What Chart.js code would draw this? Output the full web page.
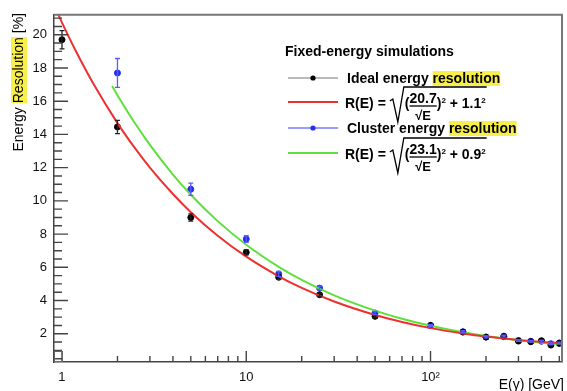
<!DOCTYPE html>
<html>
<head>
<meta charset="utf-8">
<script src="https://cdn.jsdelivr.net/npm/chart.js@4.4.1/dist/chart.umd.min.js"></script>
<style>
  html, body { margin: 0; padding: 0; background: #fff; }
</style>
</head>
<body>
<canvas id="resChart" width="567" height="391"></canvas>
<script>
// Ideal energy resolution (black points)
const idealE   = [1, 2, 5, 10, 15, 25, 50, 100, 150, 200, 250, 300, 350, 400, 450, 500];
const idealRes = [19.7, 14.45, 9.0, 6.9, 5.4, 4.35, 3.05, 2.5, 2.1, 1.8, 1.82, 1.56, 1.52, 1.58, 1.32, 1.42];
const idealErr = [0.55, 0.4, 0.22, 0.15, 0.12, 0.1, 0.08, 0.06, 0.05, 0.05, 0.05, 0.05, 0.05, 0.05, 0.05, 0.05];

// Cluster energy resolution (blue points)
const clusterE   = [2, 5, 10, 15, 25, 50, 100, 150, 200, 250, 300, 350, 400, 450, 500];
const clusterRes = [17.7, 10.7, 7.7, 5.6, 4.75, 3.25, 2.5, 2.12, 1.8, 1.86, 1.6, 1.55, 1.55, 1.4, 1.45];
const clusterErr = [0.87, 0.37, 0.2, 0.15, 0.12, 0.09, 0.07, 0.06, 0.05, 0.05, 0.05, 0.05, 0.05, 0.05, 0.05];

const redE   = [0.95, 1, 1.2, 1.5, 2, 2.5, 3, 4, 5, 7, 10, 15, 20, 30, 50, 70, 100, 150, 200, 300, 400, 517];
const redR   = [21.27, 20.73, 18.93, 16.94, 14.68, 13.14, 12.0, 10.41, 9.32, 7.9, 6.64, 5.46, 4.76, 3.94, 3.13, 2.71, 2.34, 2.02, 1.83, 1.62, 1.51, 1.43];
const greenE = [1.87, 2, 2.5, 3, 4, 5, 7, 10, 15, 20, 30, 50, 70, 100, 150, 200, 300, 400, 517];
const greenR = [16.92, 16.36, 14.64, 13.37, 11.58, 10.37, 8.78, 7.36, 6.03, 5.24, 4.31, 3.39, 2.9, 2.48, 2.09, 1.87, 1.61, 1.46, 1.36];

// axes
const xTicks = [1, 10, 100];
const xTickLabels = { 1: '1', 10: '10', 100: '10²' };
const xMinor = [2, 3, 4, 5, 6, 7, 8, 9, 20, 30, 40, 50, 60, 70, 80, 90, 200, 300, 400, 500];
const yTicks = [2, 4, 6, 8, 10, 12, 14, 16, 18, 20];

const pts = (xs, ys) => xs.map((x, i) => ({ x: x, y: ys[i] }));

const FONT = '"Liberation Sans", Arial, Helvetica, sans-serif';
const YELLOW = '#f8ef4a';
const RED = '#ee3030';
const GREEN = '#5ee03c';

// error bars drawn through the chart scales
const errorBars = {
  id: 'errorBars',
  afterDatasetsDraw(chart) {
    const { ctx, scales: { x, y } } = chart;
    ctx.save();
    chart.data.datasets.forEach(ds => {
      if (!ds.errors) return;
      ctx.strokeStyle = ds.errColor;
      ctx.lineWidth = 1.3;
      ds.data.forEach((p, j) => {
        const px = x.getPixelForValue(p.x);
        const top = y.getPixelForValue(p.y + ds.errors[j]);
        const bot = y.getPixelForValue(p.y - ds.errors[j]);
        ctx.beginPath();
        ctx.moveTo(px, top); ctx.lineTo(px, bot);
        ctx.moveTo(px - 2.5, top); ctx.lineTo(px + 2.5, top);
        ctx.moveTo(px - 2.5, bot); ctx.lineTo(px + 2.5, bot);
        ctx.stroke();
      });
    });
    ctx.restore();
  }
};

// ROOT style frame: ticks inside, top/right border, axis titles
const frame = {
  id: 'frame',
  afterDraw(chart) {
    const { ctx, chartArea: a, scales: { x, y } } = chart;
    ctx.save();
    ctx.strokeStyle = '#444';
    ctx.lineWidth = 1.4;
    ctx.beginPath();
    yTicks.forEach(v => { const py = y.getPixelForValue(v); ctx.moveTo(a.left, py); ctx.lineTo(a.left + 14, py); });
    for (let v = 0.5; v < 21.2; v += 0.5) {
      if (v % 2 === 0) continue;
      const py = y.getPixelForValue(v); ctx.moveTo(a.left, py); ctx.lineTo(a.left + 8, py);
    }
    xTicks.forEach(v => { const px = x.getPixelForValue(v); ctx.moveTo(px, a.bottom); ctx.lineTo(px, a.bottom - 11); });
    xMinor.forEach(v => { const px = x.getPixelForValue(v); ctx.moveTo(px, a.bottom); ctx.lineTo(px, a.bottom - 6); });
    ctx.stroke();
    // little box in the corner
    ctx.lineWidth = 1;
    ctx.strokeStyle = '#666';
    ctx.strokeRect(a.left + 0.5, a.bottom - 10.5, 8, 10);

    ctx.strokeStyle = '#777';
    ctx.lineWidth = 2;
    ctx.beginPath();
    ctx.moveTo(a.left, a.top); ctx.lineTo(a.right, a.top); ctx.lineTo(a.right, a.bottom);
    ctx.stroke();

    // y title
    ctx.font = '14px ' + FONT;
    ctx.fillStyle = '#000';
    ctx.textBaseline = 'middle';
    ctx.translate(19, 13);
    ctx.rotate(-Math.PI / 2);
    const segs = ['Energy ', 'Resolution', ' [%]'];
    const total = segs.reduce((s, t) => s + ctx.measureText(t).width, 0);
    let cx = -total;
    segs.forEach((t, i) => {
      const w = ctx.measureText(t).width;
      if (i === 1) { ctx.fillStyle = YELLOW; ctx.fillRect(cx, -8, w, 16); ctx.fillStyle = '#000'; }
      ctx.textAlign = 'left';
      ctx.fillText(t, cx, 0);
      cx += w;
    });
    ctx.setTransform(1, 0, 0, 1, 0, 0);

    // x title
    ctx.textAlign = 'right';
    ctx.textBaseline = 'alphabetic';
    ctx.fillText('E(γ) [GeV]', 564, 389);
    ctx.restore();
  }
};

// legend with highlighted words and formula
function hlLine(ctx, parts, x, y) {
  let cx = x;
  parts.forEach(([t, hl]) => {
    const w = ctx.measureText(t).width;
    if (hl) { ctx.fillStyle = YELLOW; ctx.fillRect(cx, y - 12, w, 15); }
    ctx.fillStyle = '#000';
    ctx.fillText(t, cx, y);
    cx += w;
  });
}

function formula(ctx, x, yl, num, c) {
  const big = 'bold 14px ' + FONT, den = 'bold 13px ' + FONT, sup = 'bold 8px ' + FONT;
  ctx.fillStyle = '#000';
  ctx.font = big;
  ctx.fillText('R(E) =', x, yl + 6);
  const x0 = x + ctx.measureText('R(E) =').width + 4;
  let cx = x0 + 15;
  ctx.fillText('(', cx, yl + 6);
  cx += ctx.measureText('(').width;
  const nw = ctx.measureText(num).width;
  ctx.fillText(num, cx, yl + 1);
  ctx.font = den;
  const dw = ctx.measureText('√E').width;
  ctx.fillText('√E', cx + (nw - dw) / 2, yl + 18);
  ctx.lineWidth = 1.3;
  ctx.strokeStyle = '#000';
  ctx.beginPath();
  ctx.moveTo(cx, yl + 4); ctx.lineTo(cx + nw, yl + 4);
  ctx.stroke();
  cx += nw;
  ctx.font = big;
  ctx.fillText(')', cx, yl + 6);
  cx += ctx.measureText(')').width;
  ctx.font = sup;
  ctx.fillText('2', cx, yl + 1);
  cx += ctx.measureText('2').width;
  ctx.font = big;
  const tail = ' + ' + c;
  ctx.fillText(tail, cx, yl + 6);
  cx += ctx.measureText(tail).width;
  ctx.font = sup;
  ctx.fillText('2', cx, yl + 1);
  cx += ctx.measureText('2').width + 1;
  // radical sign
  ctx.beginPath();
  ctx.moveTo(x0, yl - 1); ctx.lineTo(x0 + 3, yl - 3); ctx.lineTo(x0 + 8, yl + 20);
  ctx.lineTo(x0 + 14, yl - 15); ctx.lineTo(cx, yl - 15);
  ctx.stroke();
}

const legendBox = {
  id: 'legendBox',
  afterDraw(chart) {
    const ctx = chart.ctx;
    ctx.save();
    ctx.textBaseline = 'alphabetic';
    ctx.textAlign = 'left';
    ctx.font = 'bold 14px ' + FONT;
    ctx.fillStyle = '#000';
    ctx.fillText('Fixed-energy simulations', 285, 56);

    const sample = (y, color, width, dot) => {
      ctx.strokeStyle = color; ctx.lineWidth = width;
      ctx.beginPath(); ctx.moveTo(288, y); ctx.lineTo(338, y); ctx.stroke();
      if (dot) { ctx.fillStyle = dot; ctx.beginPath(); ctx.arc(313, y, 2.6, 0, Math.PI * 2); ctx.fill(); }
    };
    sample(78, '#777', 1.2, '#000');
    sample(102, RED, 2);
    sample(128, '#9a9aff', 2, '#2230ee');
    sample(153, GREEN, 2);

    ctx.font = 'bold 14px ' + FONT;
    hlLine(ctx, [['Ideal energy ', false], ['resolution', true]], 347, 83);
    hlLine(ctx, [['Cluster energy ', false], ['resolution', true]], 347, 133);
    formula(ctx, 345, 102, '20.7', '1.1');
    formula(ctx, 345, 153, '23.1', '0.9');
    ctx.restore();
  }
};

const ctx = document.getElementById('resChart').getContext('2d');
new Chart(ctx, {
  type: 'scatter',
  data: {
    datasets: [
      {
        label: 'R(E) ideal fit',
        data: pts(redE, redR),
        showLine: true,
        borderColor: RED,
        borderWidth: 2,
        pointRadius: 0,
        cubicInterpolationMode: 'monotone'
      },
      {
        label: 'R(E) cluster fit',
        data: pts(greenE, greenR),
        showLine: true,
        borderColor: GREEN,
        borderWidth: 2,
        pointRadius: 0,
        cubicInterpolationMode: 'monotone'
      },
      {
        label: 'Ideal energy resolution',
        data: pts(idealE, idealRes),
        errors: idealErr,
        errColor: '#222',
        backgroundColor: '#000',
        borderColor: '#000',
        pointRadius: 3
      },
      {
        label: 'Cluster energy resolution',
        data: pts(clusterE, clusterRes),
        errors: clusterErr,
        errColor: '#5a5aff',
        backgroundColor: '#2230ee',
        borderColor: '#2230ee',
        pointRadius: 3
      }
    ]
  },
  options: {
    responsive: false,
    devicePixelRatio: 1,
    animation: false,
    layout: { padding: { top: 14, right: 3, left: 0, bottom: 0 } },
    plugins: {
      legend: { display: false },
      tooltip: { enabled: false }
    },
    scales: {
      x: {
        type: 'logarithmic',
        min: 0.905,
        max: 517,
        afterBuildTicks: s => { s.ticks = xTicks.map(v => ({ value: v })); },
        afterFit: s => { s.height = 29; },
        ticks: {
          autoSkip: false,
          maxRotation: 0,
          padding: 8,
          color: '#111',
          font: { size: 13, family: FONT },
          callback: v => xTickLabels[v] || ''
        },
        grid: { display: false, drawTicks: false },
        border: { display: true, color: '#444', width: 1.5 }
      },
      y: {
        min: 0.3,
        max: 21.2,
        afterBuildTicks: s => { s.ticks = yTicks.map(v => ({ value: v })); },
        afterFit: s => { s.width = 54; },
        ticks: {
          padding: 7,
          color: '#111',
          font: { size: 13, family: FONT }
        },
        grid: { display: false, drawTicks: false },
        border: { display: true, color: '#444', width: 1.5 }
      }
    }
  },
  plugins: [errorBars, frame, legendBox]
});
</script>
</body>
</html>
